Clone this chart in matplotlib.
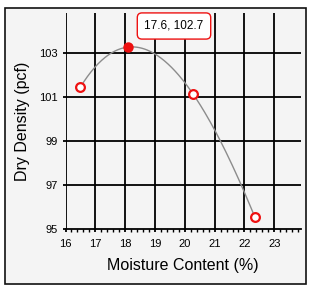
import numpy as np
import matplotlib
matplotlib.use("Agg")
import matplotlib.pyplot as plt
from matplotlib.patches import Rectangle
from matplotlib.ticker import MultipleLocator

plt.rcParams['font.family'] = ['Liberation Sans', 'DejaVu Sans']

moisture = [16.5, 18.1, 20.27, 22.35]
density = [101.44, 103.25, 101.14, 95.55]
peak_index = 1
annotation = "17.6, 102.7"
xticks = [16, 17, 18, 19, 20, 21, 22, 23]
yticks = [95, 97, 99, 101, 103]

fig = plt.figure(figsize=(3.16, 2.93), dpi=100)
fig.patch.set_facecolor('white')
fig.patches.append(Rectangle((5/316, 1-284/293), 301/316, 276/293, transform=fig.transFigure,
                             facecolor='#f4f4f4', edgecolor='#111111', linewidth=1.2, zorder=-10))

ax = fig.add_axes([65.5/316, 1-229.3/293, (300.5-65.5)/316, (229.3-13.3)/293])
ax.set_facecolor('none')
ax.set_xlim(16, 23.88)
ax.set_ylim(95, 104.78)

# fitted curve through the points
coef = np.polyfit(moisture, density, 3)
xs = np.linspace(moisture[0], moisture[-1], 200)
ax.plot(xs, np.polyval(coef, xs), color='#8c8c8c', lw=1.0, zorder=3)

open_idx = [i for i in range(len(moisture)) if i != peak_index]
ax.plot([moisture[i] for i in open_idx], [density[i] for i in open_idx], 'o', ms=6.3,
        mfc='white', mec='#ee1111', mew=1.6, zorder=4, clip_on=False)
ax.plot([moisture[peak_index]], [density[peak_index]], 'o', ms=6.3,
        mfc='#ee1111', mec='#ee1111', mew=1.2, zorder=4)

for x in xticks:
    ax.axvline(x, color='black', lw=1.3, zorder=1)
for y in yticks[1:]:
    ax.axhline(y, color='black', lw=1.3, zorder=1)

for s in ['top', 'right', 'left']:
    ax.spines[s].set_visible(False)
ax.spines['bottom'].set_linewidth(1.3)

ax.set_xticks(xticks)
ax.set_yticks(yticks)
ax.xaxis.set_minor_locator(MultipleLocator(0.2))
ax.tick_params(axis='x', which='major', length=2.5, width=1.3, labelsize=8, pad=4.5)
ax.tick_params(axis='x', which='minor', length=1.8, width=1.0)
ax.tick_params(axis='y', which='major', length=2.5, width=1.3, labelsize=8, pad=3)

ax.set_xlabel("Moisture Content (%)", fontsize=11.5, labelpad=6.5)
ax.set_ylabel("Dry Density (pcf)", fontsize=11.5, labelpad=6.5)

fig.text(174/316, 1-26/293, annotation, fontsize=8.5, ha='center', va='center',
         bbox=dict(boxstyle='round,pad=0.6,rounding_size=0.4', fc='white', ec='#ee1111', lw=1.0))

fig.savefig("out.png", dpi=100)
